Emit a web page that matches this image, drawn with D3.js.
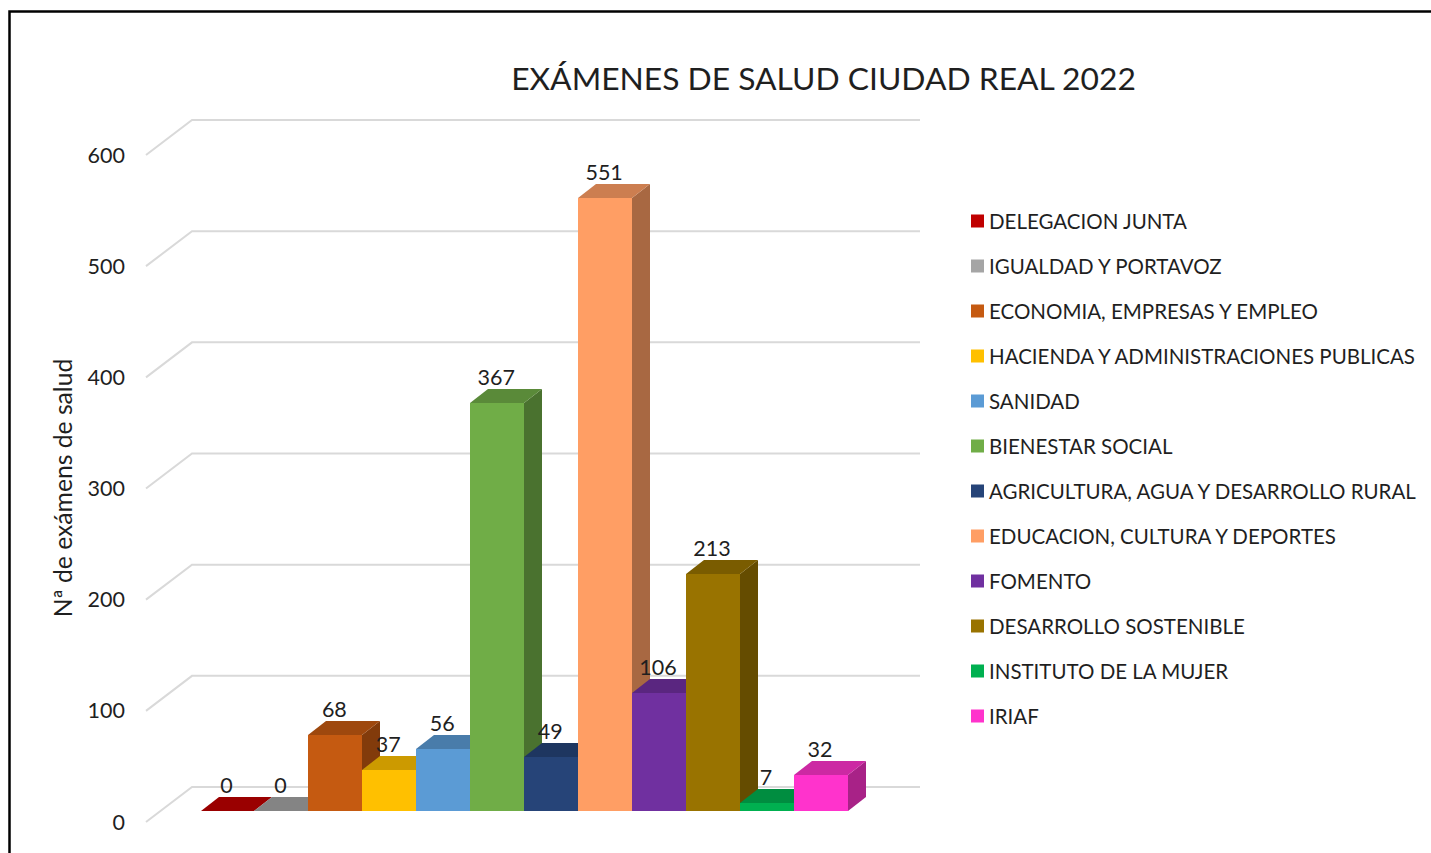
<!DOCTYPE html>
<html lang="es">
<head>
<meta charset="utf-8">
<script src="https://cdn.jsdelivr.net/npm/d3@7"></script>
<style>
html,body{margin:0;padding:0;background:#fff;overflow:hidden}
svg{display:block}
text{font-family:Lato,"Open Sans",sans-serif;fill:#1f1f1f}
</style>
</head>
<body>
<svg id="chart" width="1431" height="853"></svg>
<script>
const categories = ["DELEGACION JUNTA","IGUALDAD Y PORTAVOZ","ECONOMIA, EMPRESAS Y EMPLEO","HACIENDA Y ADMINISTRACIONES PUBLICAS","SANIDAD","BIENESTAR SOCIAL","AGRICULTURA, AGUA Y DESARROLLO RURAL","EDUCACION, CULTURA Y DEPORTES","FOMENTO","DESARROLLO SOSTENIBLE","INSTITUTO DE LA MUJER","IRIAF"];
const values = [0,0,68,37,56,367,49,551,106,213,7,32];
const colors = ["#C00000","#A5A5A5","#C55A11","#FFC000","#5B9BD5","#70AD47","#264478","#FF9E64","#7030A0","#997300","#00B050","#FF33CC"];
const yTicks = [0,100,200,300,400,500,600];
const titleText = "EXÁMENES DE SALUD CIUDAD REAL 2022";
const yAxisTitle = "Nª de exámens de salud";

const svg = d3.select("#chart");
const depthX = 18, depthY = 14;

const x = d3.scaleBand().domain(categories).range([200.5,847.9]).padding(0);
const yBack = d3.scaleLinear().domain([0,600]).range([787,120]);
const yFront = v => Math.round(yBack(v) + 24);

// frame
svg.append("path").attr("d","M9.5,853V11.5H1431").attr("fill","none").attr("stroke","#000").attr("stroke-width",2.5);

// title
svg.append("text").attr("x",823.5).attr("y",90).attr("text-anchor","middle")
  .attr("font-size",31.8).text(titleText);

// gridlines
const grid = svg.append("g").attr("fill","none").attr("stroke","#D9D9D9").attr("stroke-width",2);
grid.selectAll("path").data(yTicks).join("path")
  .attr("d",v=>`M146,${yBack(v)+35}L192,${yBack(v)}H920`);

// y tick labels
svg.append("g").selectAll("text").data(yTicks).join("text")
  .attr("x",125).attr("y",v=>yBack(v)+35).attr("dy","0.35em").attr("text-anchor","end")
  .attr("font-size",21.5).text(d=>d);

// y axis title
svg.append("text").attr("transform","translate(72,488) rotate(-90)").attr("text-anchor","middle")
  .attr("font-size",24.7).text(yAxisTitle);

// bars
const bars = svg.append("g").selectAll("g").data(categories).join("g");
bars.each(function(c,i){
  const g = d3.select(this), v = values[i], col = d3.rgb(colors[i]);
  const x0 = Math.round(x(c)), x1 = Math.round(x(c) + x.bandwidth()), t = yFront(v), b = yFront(0);
  const darker = k => d3.rgb(col.r*k,col.g*k,col.b*k).formatHex();
  g.append("path").attr("fill",darker(0.66))
    .attr("d",`M${x1},${t}L${x1+depthX},${t-depthY}V${b-depthY}L${x1},${b}Z`);
  g.append("path").attr("fill",darker(0.8))
    .attr("d",`M${x0},${t}H${x1}L${x1+depthX},${t-depthY}H${x0+depthX}Z`);
  g.append("rect").attr("x",x0).attr("y",t).attr("width",x1-x0).attr("height",Math.max(0,b-t)).attr("fill",col.formatHex());
});

// data labels
svg.append("g").selectAll("text").data(categories).join("text")
  .attr("x",c=>x(c)+x.bandwidth()/2-1)
  .attr("y",(c,i)=>yFront(values[i])-18.5)
  .attr("text-anchor","middle").attr("font-size",21.5)
  .text((c,i)=>values[i]);

// legend
const legendY = d3.scalePoint().domain(categories).range([221.5,716.5]);
const legend = svg.append("g").selectAll("g").data(categories).join("g")
  .attr("transform",c=>`translate(971,${legendY(c)})`);
legend.append("rect").attr("y",-7).attr("width",13).attr("height",13).attr("fill",(c,i)=>colors[i]);
legend.append("text").attr("x",18).attr("dy","0.35em").attr("font-size",20.5).text(c=>c);
</script>
</body>
</html>
